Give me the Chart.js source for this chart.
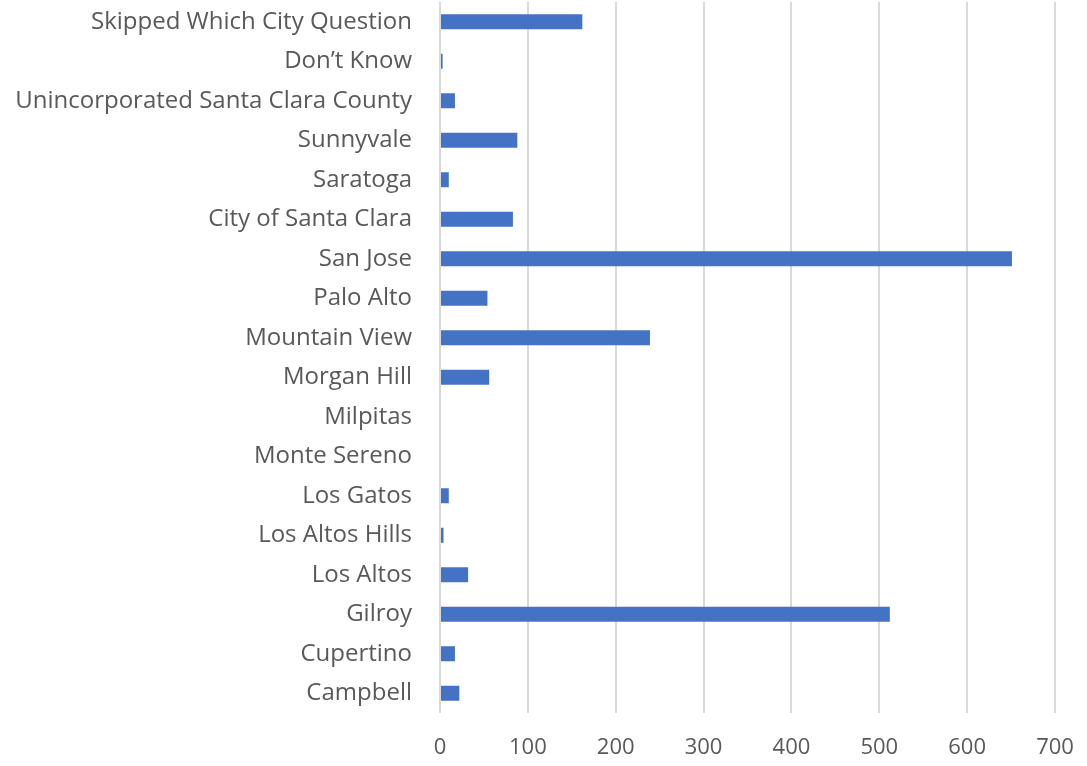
<!DOCTYPE html>
<html>
<head>
<meta charset="utf-8">
<script src="https://cdn.jsdelivr.net/npm/chart.js@4"></script>
<style>
  html, body { margin: 0; padding: 0; background: #fff; overflow: hidden; }
  #wrap { width: 1087px; height: 766px; }
</style>
</head>
<body>
<div id="wrap"><canvas id="chart"></canvas></div>
<script>
const cities = [
  'Skipped Which City Question', 'Don\u2019t Know', 'Unincorporated Santa Clara County',
  'Sunnyvale', 'Saratoga', 'City of Santa Clara', 'San Jose', 'Palo Alto',
  'Mountain View', 'Morgan Hill', 'Milpitas', 'Monte Sereno', 'Los Gatos',
  'Los Altos Hills', 'Los Altos', 'Gilroy', 'Cupertino', 'Campbell'
];
const responses = [162, 3, 17, 88, 10, 83, 651, 54, 239, 56, 0, 0, 10, 4, 32, 512, 17, 22];
const xTicks = [0, 100, 200, 300, 400, 500, 600, 700];

const textColor = '#595959';
const xFont = { family: '"Open Sans", sans-serif', size: 22 };
const yFont = { family: '"Open Sans", sans-serif', size: 24 };

new Chart(document.getElementById('chart').getContext('2d'), {
  type: 'bar',
  data: {
    labels: cities,
    datasets: [{
      data: responses,
      backgroundColor: '#4472C4',
      barPercentage: 0.38,
      categoryPercentage: 1
    }]
  },
  options: {
    indexAxis: 'y',
    responsive: true,
    maintainAspectRatio: false,
    animation: false,
    layout: { padding: { top: 2, right: 32, left: 0, bottom: 0 } },
    plugins: { legend: { display: false }, tooltip: { enabled: false } },
    scales: {
      x: {
        min: xTicks[0],
        max: xTicks[xTicks.length - 1],
        afterBuildTicks: (s) => { s.ticks = xTicks.map(v => ({ value: v })); },
        afterFit: (s) => { s.height = 53; s.paddingLeft = 0; s.paddingRight = 0; },
        grid: { color: '#d9d9d9', lineWidth: 2, drawTicks: false },
        border: { display: false },
        ticks: { color: textColor, font: xFont, padding: 22 }
      },
      y: {
        afterFit: (s) => { s.width = 440; s.paddingTop = 0; s.paddingBottom = 0; },
        grid: { display: false, drawTicks: false },
        border: { display: false },
        ticks: { color: textColor, font: yFont, padding: 28, autoSkip: false }
      }
    }
  }
});
</script>
</body>
</html>
